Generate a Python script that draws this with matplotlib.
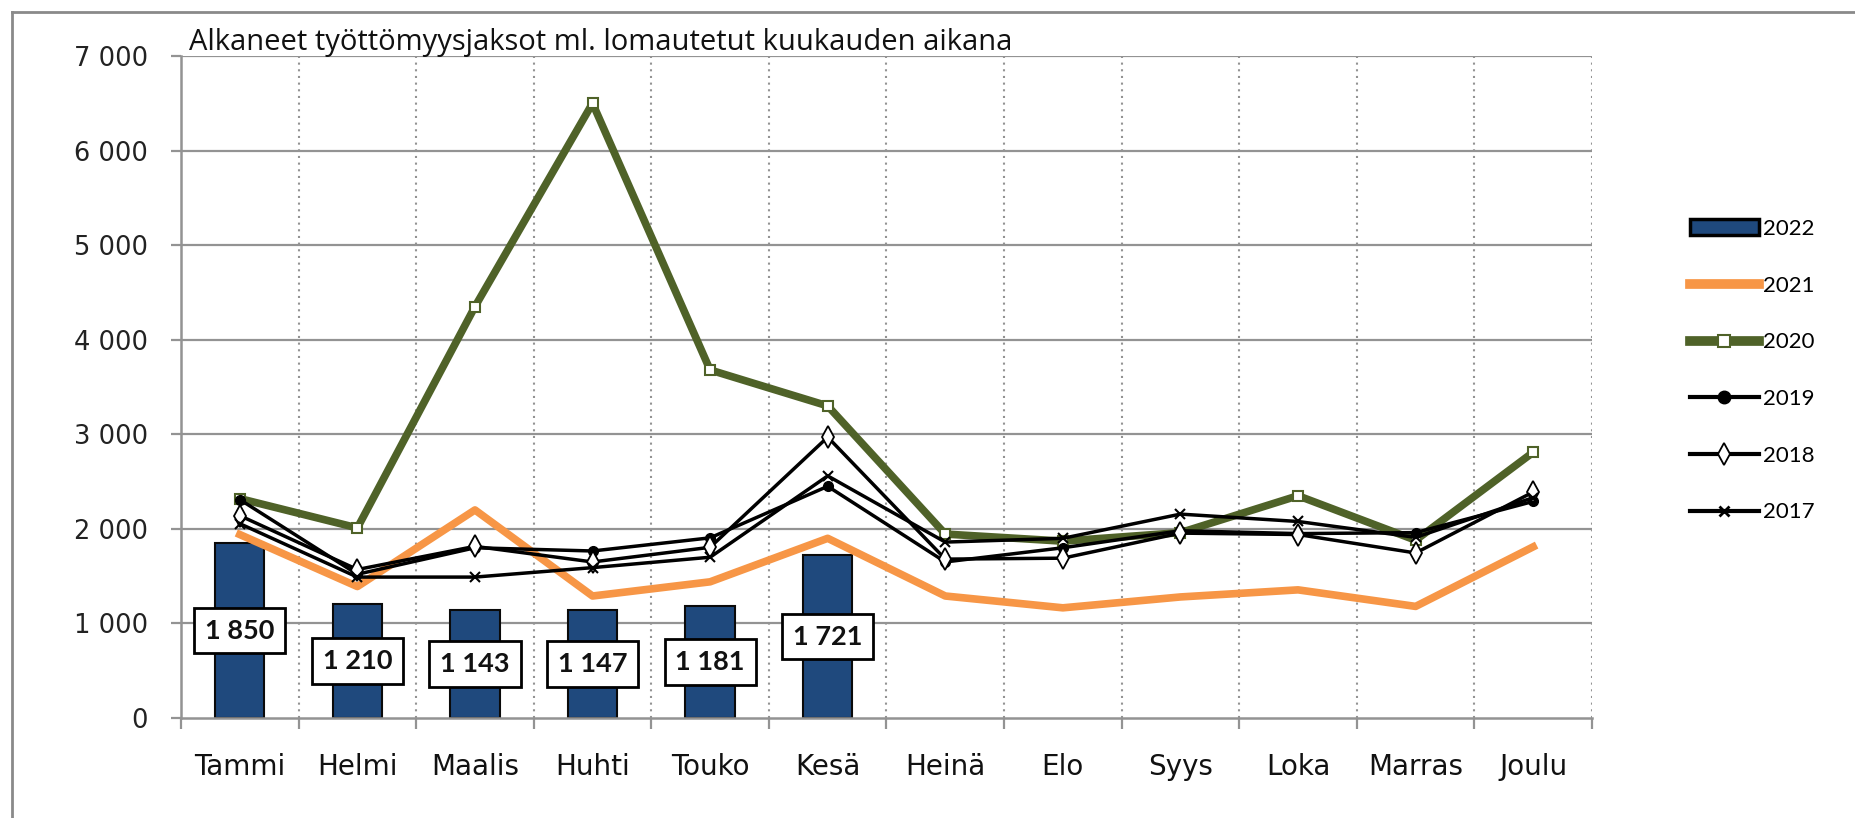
import matplotlib
matplotlib.use("Agg")
import matplotlib.pyplot as plt
import numpy as np
from matplotlib.lines import Line2D
from matplotlib.patches import Patch

months = ['Tammi', 'Helmi', 'Maalis', 'Huhti', 'Touko', 'Kesä',
          'Heinä', 'Elo', 'Syys', 'Loka', 'Marras', 'Joulu']
y2022 = [1850, 1210, 1143, 1147, 1181, 1721]
y2021 = [1940, 1390, 2200, 1290, 1440, 1900, 1290, 1165, 1280, 1355, 1180, 1810]
y2020 = [2320, 2010, 4350, 6500, 3680, 3300, 1945, 1870, 1960, 2350, 1880, 2810]
y2019 = [2310, 1520, 1800, 1766, 1905, 2450, 1650, 1800, 1980, 1950, 1960, 2290]
y2018 = [2140, 1570, 1815, 1650, 1805, 2970, 1680, 1690, 1955, 1940, 1745, 2390]
y2017 = [2055, 1490, 1490, 1590, 1700, 2560, 1860, 1900, 2156, 2078, 1910, 2330]
yticks = [0, 1000, 2000, 3000, 4000, 5000, 6000, 7000]
title = 'Alkaneet työttömyysjaksot ml. lomautetut kuukauden aikana'

W, H = 1855, 818
fig = plt.figure(figsize=(W / 100, H / 100), dpi=100)
L, R, T, B = 181, 1592, 56, 718
ax = fig.add_axes([L / W, 1 - B / H, (R - L) / W, (B - T) / H])

x = np.arange(len(months))
GRID = '#939393'
navy = '#1F497D'
orange = '#F79646'
green = '#4F6228'

# gridlines
for v in yticks[1:]:
    ax.axhline(v, color=GRID, lw=1.6, zorder=0.5)
for b in np.arange(0.5, len(months), 1.0):
    ax.axvline(b, color=GRID, lw=1.5, ls=(0, (1, 2.2)), zorder=0.5)

ax.bar(x[:len(y2022)], y2022, width=0.42, color=navy,
       edgecolor='#0a0a0a', linewidth=1.5, zorder=2, label='2022')
ax.plot(x, y2021, color=orange, lw=5.5, zorder=3, label='2021')
ax.plot(x, y2020, color=green, lw=5.5, zorder=4, marker='s', ms=7,
        mfc='white', mec=green, mew=1.5, label='2020')
ax.plot(x, y2019, color='black', lw=2.5, zorder=5, marker='o', ms=7,
        mfc='black', mec='black', label='2019')
ax.plot(x, y2018, color='black', lw=2.5, zorder=5, marker='d', ms=11,
        mfc='white', mec='black', mew=1.3, label='2018')
ax.plot(x, y2017, color='black', lw=2.5, zorder=5, marker='x', ms=7,
        mec='black', mew=1.5, label='2017')

for xi, v in zip(x, y2022):
    s = f'{v:,}'.replace(',', ' ')
    ax.text(xi, v / 2, s, ha='center', va='center', fontsize=19.5,
            fontweight='bold', family='Lato', color='#111111', zorder=10,
            bbox=dict(boxstyle='square,pad=0.4', fc='white', ec='black', lw=2))

ax.set_xlim(-0.5, len(months) - 0.5)
ax.set_ylim(0, 7000)
ax.set_yticks(yticks)
ax.set_yticklabels([f'{v:,}'.replace(',', ' ') for v in yticks],
                   fontsize=18.5, family='DejaVu Sans', color='#222222')
ax.set_xticks(x)
ax.set_xticklabels(months, fontsize=20, family='DejaVu Sans', color='#111111')
ax.set_xticks(np.arange(-0.5, len(months) + 0.5, 1.0), minor=True)
ax.tick_params(axis='x', which='major', length=0, pad=25)
ax.tick_params(axis='x', which='minor', length=8, width=1.6, color=GRID)
ax.tick_params(axis='y', length=7, width=1.6, color=GRID, pad=17)

for side in ['top', 'right']:
    ax.spines[side].set_visible(False)
for side in ['left', 'bottom']:
    ax.spines[side].set_color(GRID)
    ax.spines[side].set_linewidth(1.8)

handles = [
    Patch(facecolor=navy, edgecolor='black', linewidth=2.5),
    Line2D([], [], color=orange, lw=7),
    Line2D([], [], color=green, lw=7, marker='s', ms=9, mfc='white', mec=green, mew=1.5),
    Line2D([], [], color='black', lw=3, marker='o', ms=9, mfc='black'),
    Line2D([], [], color='black', lw=3, marker='d', ms=11, mfc='white', mec='black', mew=1.3),
    Line2D([], [], color='black', lw=3, marker='x', ms=7, mew=2),
]
labels = ['2022', '2021', '2020', '2019', '2018', '2017']
fig.legend(handles, labels, loc='upper left',
           bbox_to_anchor=(1690 / W, 1 - 219 / H), frameon=False,
           prop={'family': 'Lato', 'size': 16}, handlelength=3.1,
           handletextpad=0.18, labelspacing=1.65, borderpad=0, borderaxespad=0)

fig.text(189 / W, 1 - 50 / H, title, fontsize=21, family='Open Sans',
         va='baseline', ha='left', color='#111111')

# outer border (left and top visible)
fig.add_artist(Line2D([12 / W, 12 / W], [0, 1 - 12 / H], color='#8a8a8a', lw=2,
                      transform=fig.transFigure))
fig.add_artist(Line2D([12 / W, 1], [1 - 12 / H, 1 - 12 / H], color='#8a8a8a', lw=2,
                      transform=fig.transFigure))

fig.savefig('out.png', dpi=100)
